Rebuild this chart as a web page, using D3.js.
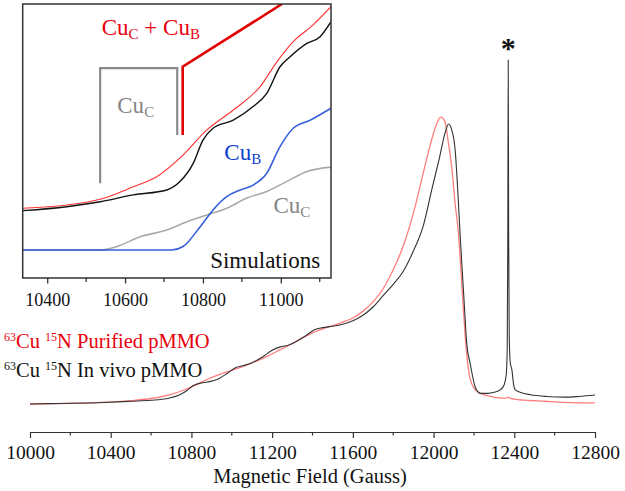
<!DOCTYPE html>
<html><head><meta charset="utf-8">
<script src="https://cdn.jsdelivr.net/npm/d3@7"></script>
<style>
body{margin:0;background:#fff}
svg{display:block}
text{font-family:"Liberation Serif","Times New Roman",serif}
</style>
</head><body>
<svg id="chart" width="625" height="491"></svg>
<script>
// ---------- DATA ----------
const mainTicks = [10000, 10400, 10800, 11200, 11600, 12000, 12400, 12800];
const mainMinorTicks = [10200, 10600, 11000, 11400, 11800, 12200, 12600];
const insetTicks = [10400, 10600, 10800, 11000];
const insetMinorTicks = [10500, 10700, 10900, 11100];

// Main spectrum: purified pMMO (red)
const purifiedField  = [10000,10100,10200,10300,10400,10500,10600,10700,10760,10820,10880,10940,11000,11060,11120,11180,11240,11300,11360,11420,11480,11540,11600,11650,11700,11750,11800,11850,11900,11950,11990,12015,12035,12055,12075,12090,12105,12123,12145,12160,12180,12200,12230,12280,12340,12362,12370,12378,12400,12450,12550,12650,12800];
const purifiedSignal = [0,0.1,0.2,0.35,0.6,1.0,1.6,2.8,4.0,5.5,7.2,8.6,9.8,11.0,12.4,14.0,15.8,17.6,19.5,21.2,22.4,23.6,25.0,27.0,29.7,33.5,39.0,46.0,55.5,67.4,76.7,81.4,83.4,82.3,75.3,68.9,59.3,49.7,30.2,17.2,7.6,4.7,3.2,2.2,1.7,1.8,2.0,1.7,1.4,1.1,0.8,0.5,0.3];

// Main spectrum: in vivo pMMO (black)
const invivoField  = [10000,10100,10200,10300,10400,10500,10600,10680,10740,10780,10810,10840,10880,10930,10980,11020,11060,11100,11150,11200,11240,11280,11320,11370,11410,11450,11500,11550,11600,11650,11700,11750,11800,11850,11900,11950,11990,12030,12057,12074,12090,12107,12120,12131,12151,12165,12181,12206,12231,12270,12300,12330,12350,12360,12365,12368,12370,12372,12375,12380,12388,12396,12404,12440,12480,12560,12650,12720,12800];
const invivoSignal = [0,0.1,0.2,0.3,0.5,0.8,1.1,1.6,2.6,4.0,5.4,6.0,6.4,7.2,9.0,10.6,11.2,12.0,13.6,15.6,16.6,17.1,18.2,20.0,21.6,22.2,22.6,23.2,24.2,25.8,28.2,31.5,34.8,38.6,44.5,52.0,62.0,71.8,78.8,81.4,79.7,73.8,62.0,49.7,30.2,17.2,11.9,5.0,3.1,3.1,3.4,4.1,5.6,8.5,16,50,100,50,20,12,10,6,4.2,3.2,2.7,2.2,2.0,2.2,2.6];

// Inset: experimental traces (expanded)
const insetPurField  = [10337,10450,10536,10621,10681,10749,10810,10878,10947,10990,11032,11083,11129];
const insetPurSignal = [17.0,18.3,20.6,25.7,29.8,38.6,48.8,56.9,66.4,76.5,84.7,91.5,98.9];
const insetVivoField  = [10337,10450,10536,10621,10707,10741,10775,10800,10826,10878,10929,10964,10998,11024,11067,11101,11129];
const insetVivoSignal = [16.0,17.6,19.6,22.4,24.4,27.8,35.2,44.7,49.5,52.8,58.3,63.7,74.5,78.6,84.0,86.7,92.8];

// Inset: simulations
const simCuBField  = [10337,10720,10749,10793,10826,10861,10896,10929,10964,10998,11032,11076,11129];
const simCuBSignal = [0,0,1.4,9.5,16.3,21.7,24.4,26.4,31.2,42.0,49.5,52.8,57.6];
const simCuCField  = [10337,10536,10579,10639,10707,10759,10810,10861,10913,10964,11016,11067,11129];
const simCuCSignal = [0,0,1.4,5.4,8.1,11.5,14.2,17.0,21.1,23.8,27.9,31.9,33.7];

// Inset bracket annotations (field, signal)
const cuCBracketField  = [10536,10536,10734,10734];
const cuCBracketSignal = [27.1,73.9,73.9,46.7];
const cuCBBracketField  = [10748,10748,11003];
const cuCBBracketSignal = [46.7,74.5,100];

// ---------- DRAW ----------
const svg = d3.select("#chart");
const x = d3.scaleLinear().domain([10000, 12800]).range([30, 595]);
const y = d3.scaleLinear().domain([0, 100]).range([404, 60]);

const line = (fx, fy, xs, ys, curve) => d3.line()
  .x(i => xs(fx[i])).y(i => ys(fy[i])).curve(curve || d3.curveMonotoneX)(d3.range(fx.length));

// main curves
svg.append("path").attr("d", line(purifiedField, purifiedSignal, x, y))
  .attr("fill","none").attr("stroke","#ff7d7d").attr("stroke-width",1.3);
svg.append("path").attr("d", line(invivoField, invivoSignal, x, y))
  .attr("fill","none").attr("stroke","#333").attr("stroke-width",1.1);

// main axis
const axG = svg.append("g").attr("transform","translate(0,432)");
axG.call(d3.axisBottom(x).tickValues(mainTicks).tickSize(6).tickSizeOuter(0).tickFormat(d3.format("d")));
axG.select(".domain").attr("stroke","#333").attr("stroke-width",1.2);
axG.selectAll(".tick line").attr("stroke","#333").attr("stroke-width",1.2);
axG.selectAll(".tick text").attr("font-size",19.5).attr("fill","#111")
  .attr("font-family","Liberation Serif, Times New Roman, serif").attr("y",13.5);
axG.selectAll(".minor").data(mainMinorTicks).enter().append("line")
  .attr("x1",d=>x(d)).attr("x2",d=>x(d)).attr("y1",0).attr("y2",3.5)
  .attr("stroke","#333").attr("stroke-width",1.2);
svg.append("text").attr("x", 310).attr("y",483).attr("text-anchor","middle")
  .attr("font-size",20.5).attr("fill","#111").text("Magnetic Field (Gauss)");

// asterisk
svg.append("text").attr("x", x(12370)).attr("y", 58).attr("text-anchor","middle")
  .attr("font-size",30).attr("font-weight","bold").attr("fill","#111").text("*");

// legend
function legend(yPos, label, color){
  const t = svg.append("text").attr("x",4).attr("y",yPos).attr("font-size",20.5).attr("fill",color);
  t.append("tspan").attr("font-size",12).attr("dy",-7).text("63");
  t.append("tspan").attr("dy",7).text("Cu ");
  t.append("tspan").attr("font-size",12).attr("dy",-7).text("15");
  t.append("tspan").attr("dy",7).text("N " + label);
}
legend(348, "Purified pMMO", "#e8000b");
legend(377, "In vivo pMMO", "#111");

// ---------- INSET ----------
const ix = d3.scaleLinear().domain([10337, 11129]).range([22.7, 331]);
const iy = d3.scaleLinear().domain([0, 100]).range([250, 4]);
const L = 22.7, R = 331, T = 4, B = 278;
svg.append("rect").attr("x",L).attr("y",T).attr("width",R-L).attr("height",B-T).attr("fill","#fff");

svg.append("clipPath").attr("id","insetClip").append("rect")
  .attr("x",L).attr("y",T).attr("width",R-L).attr("height",B-T);
const ig = svg.append("g").attr("clip-path","url(#insetClip)");

ig.append("path").attr("d", line(simCuCField, simCuCSignal, ix, iy))
  .attr("fill","none").attr("stroke","#a9a9a9").attr("stroke-width",1.6);
ig.append("path").attr("d", line(simCuBField, simCuBSignal, ix, iy))
  .attr("fill","none").attr("stroke","#1f4fd6").attr("stroke-width",1.6).attr("stroke-opacity",0.9);
ig.append("path").attr("d", line(insetPurField, insetPurSignal, ix, iy))
  .attr("fill","none").attr("stroke","#ff3030").attr("stroke-width",1.1);
ig.append("path").attr("d", line(insetVivoField, insetVivoSignal, ix, iy))
  .attr("fill","none").attr("stroke","#111").attr("stroke-width",1.4);

// brackets
ig.append("path").attr("d", line(cuCBracketField, cuCBracketSignal, ix, iy, d3.curveLinear))
  .attr("fill","none").attr("stroke","#8a8a8a").attr("stroke-width",2.2);
ig.append("path").attr("d", line(cuCBBracketField, cuCBBracketSignal, ix, iy, d3.curveLinear))
  .attr("fill","none").attr("stroke","#e00000").attr("stroke-width",2.6);

// inset labels
function subLabel(xp, yp, main, sub, color){
  const t = svg.append("text").attr("x",xp).attr("y",yp).attr("font-size",23).attr("fill",color);
  t.append("tspan").text(main);
  t.append("tspan").attr("font-size",15).attr("dy",4).text(sub);
  return t;
}
{
  const t = svg.append("text").attr("x", ix(10540)).attr("y", 35).attr("font-size",23).attr("fill","#e8000b");
  t.append("tspan").text("Cu");
  t.append("tspan").attr("font-size",15).attr("dy",4).text("C");
  t.append("tspan").attr("dy",-4).text(" + Cu");
  t.append("tspan").attr("font-size",15).attr("dy",4).text("B");
}
subLabel(ix(10580), iy(55.7), "Cu", "C", "#858585");
subLabel(ix(10855), iy(36.6), "Cu", "B", "#0b3fd1");
subLabel(ix(10981), iy(14.9), "Cu", "C", "#858585");
svg.append("text").attr("x", ix(11101)).attr("y", iy(-7.5)).attr("text-anchor","end")
  .attr("font-size",23).attr("fill","#111").text("Simulations");

// inset frame
svg.append("rect").attr("x",L).attr("y",T).attr("width",R-L).attr("height",B-T)
  .attr("fill","none").attr("stroke","#333").attr("stroke-width",1.5);

// inset axis
const iax = svg.append("g").attr("transform",`translate(0,${B})`);
iax.call(d3.axisBottom(ix).tickValues(insetTicks).tickSize(5.5).tickSizeOuter(0).tickFormat(d3.format("d")));
iax.select(".domain").remove();
iax.selectAll(".tick line").attr("stroke","#333").attr("stroke-width",1.3);
iax.selectAll(".tick text").attr("font-size",18).attr("fill","#111")
  .attr("font-family","Liberation Serif, Times New Roman, serif").attr("y",15.5);
iax.selectAll(".minor").data(insetMinorTicks).enter().append("line")
  .attr("x1",d=>ix(d)).attr("x2",d=>ix(d)).attr("y1",0).attr("y2",4)
  .attr("stroke","#333").attr("stroke-width",1.3);
</script>
</body></html>
